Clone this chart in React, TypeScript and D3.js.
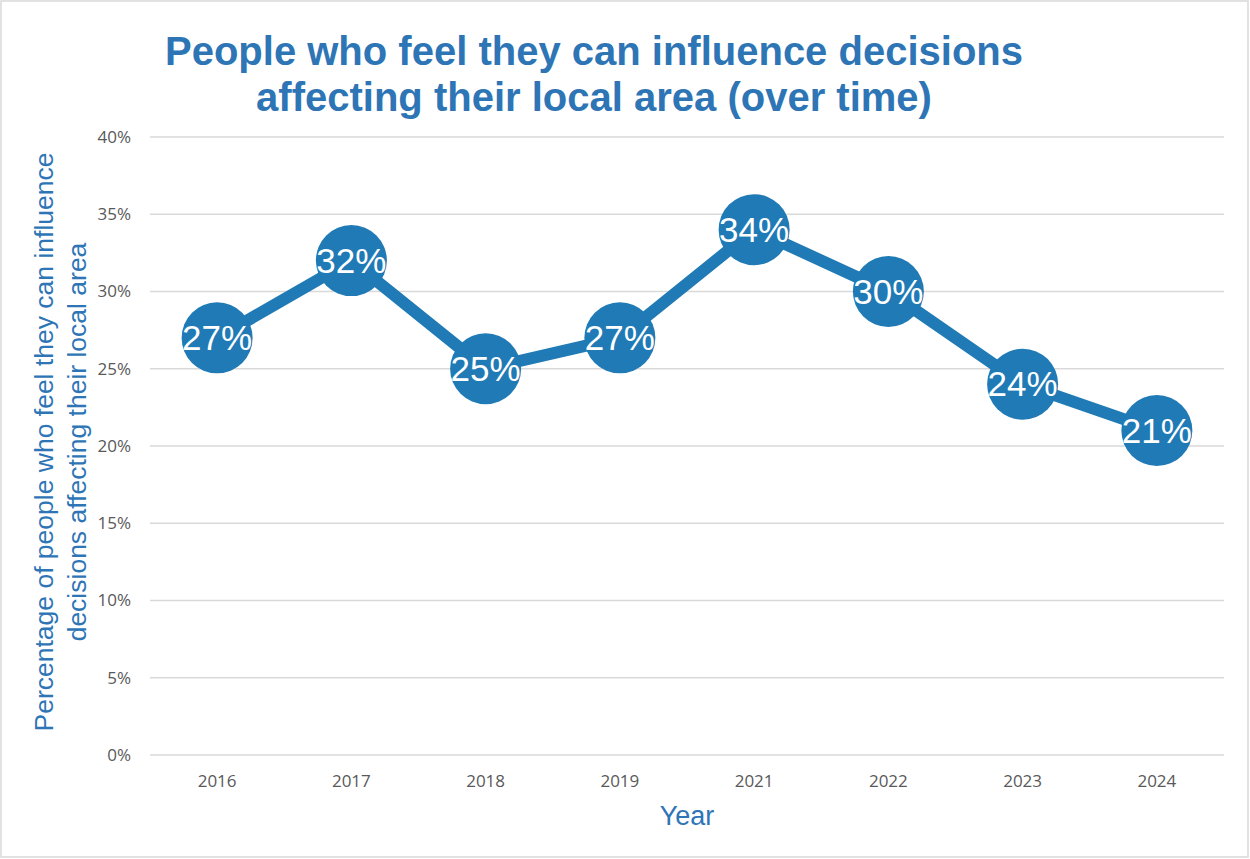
import React from 'react'
import * as d3 from 'd3'

const years = ['2016', '2017', '2018', '2019', '2021', '2022', '2023', '2024']
const shares = [0.27, 0.32, 0.25, 0.27, 0.34, 0.30, 0.24, 0.21]
const yTicks = [0, 0.05, 0.1, 0.15, 0.2, 0.25, 0.3, 0.35, 0.4]
const titleLines = ['People who feel they can influence decisions', 'affecting their local area (over time)']
const yTitleLines = ['Percentage of people who feel they can influence', 'decisions affecting their local area']

const WIDTH = 1250
const HEIGHT = 859
const plot = { left: 150, right: 1224, top: 137, bottom: 755 }
const BLUE = '#1F7AB5'
const TITLE_BLUE = '#2E75B6'

const App = () => {
    const x = d3.scaleBand().domain(years).range([plot.left, plot.right])
    const y = d3.scaleLinear().domain([0, 0.4]).range([plot.bottom, plot.top])
    const cx = (year: string) => (x(year) as number) + x.bandwidth() / 2

    const line = d3.line<number>()
        .x((_, i) => cx(years[i]))
        .y((d) => y(d))

    const pct = d3.format('.0%')

    return (
        <div style={{ position: 'absolute', left: 0, top: 0 }}>
            <svg width={WIDTH} height={HEIGHT} style={{ display: 'block', background: '#fff' }}>
                <rect x={1} y={1} width={WIDTH - 3} height={HEIGHT - 3} fill="#fff" stroke="#d9d9d9" strokeWidth={1.5} />

                {/* title */}
                <g fontFamily="Arial, 'Liberation Sans', sans-serif" fontWeight="bold" fontSize={40} fill={TITLE_BLUE} textAnchor="middle">
                    {titleLines.map((t, i) => (
                        <text key={i} x={594} y={65 + i * 46}>{t}</text>
                    ))}
                </g>

                {/* gridlines + y ticks */}
                <g fontFamily="'Open Sans', sans-serif" fontSize={17} fill="#595959">
                    {yTicks.map((t) => (
                        <g key={t}>
                            <line x1={plot.left} x2={plot.right} y1={y(t)} y2={y(t)} stroke="#d9d9d9" strokeWidth={1.5} />
                            <text x={131} y={y(t)} dy="0.35em" textAnchor="end">{pct(t)}</text>
                        </g>
                    ))}
                    {years.map((yr) => (
                        <text key={yr} x={cx(yr)} y={781} dy="0.35em" textAnchor="middle">{yr}</text>
                    ))}
                </g>

                {/* axis titles */}
                <g fontFamily="Arial, 'Liberation Sans', sans-serif" fill={TITLE_BLUE} textAnchor="middle">
                    <text x={687} y={825} fontSize={27}>Year</text>
                    {yTitleLines.map((t, i) => (
                        <text key={i} fontSize={26.5} transform={`translate(${53 + i * 33}, 442) rotate(-90)`}>{t}</text>
                    ))}
                </g>

                {/* series */}
                <path d={line(shares) as string} fill="none" stroke={BLUE} strokeWidth={12} strokeLinejoin="round" />
                {shares.map((v, i) => (
                    <g key={years[i]}>
                        <circle cx={cx(years[i])} cy={y(v)} r={35.5} fill={BLUE} />
                        <text
                            x={cx(years[i])}
                            y={y(v)}
                            dy="0.35em"
                            textAnchor="middle"
                            fontFamily="Arial, 'Liberation Sans', sans-serif"
                            fontSize={35}
                            fill="#fff"
                        >
                            {pct(v)}
                        </text>
                    </g>
                ))}
            </svg>
        </div>
    )
}

export default App
